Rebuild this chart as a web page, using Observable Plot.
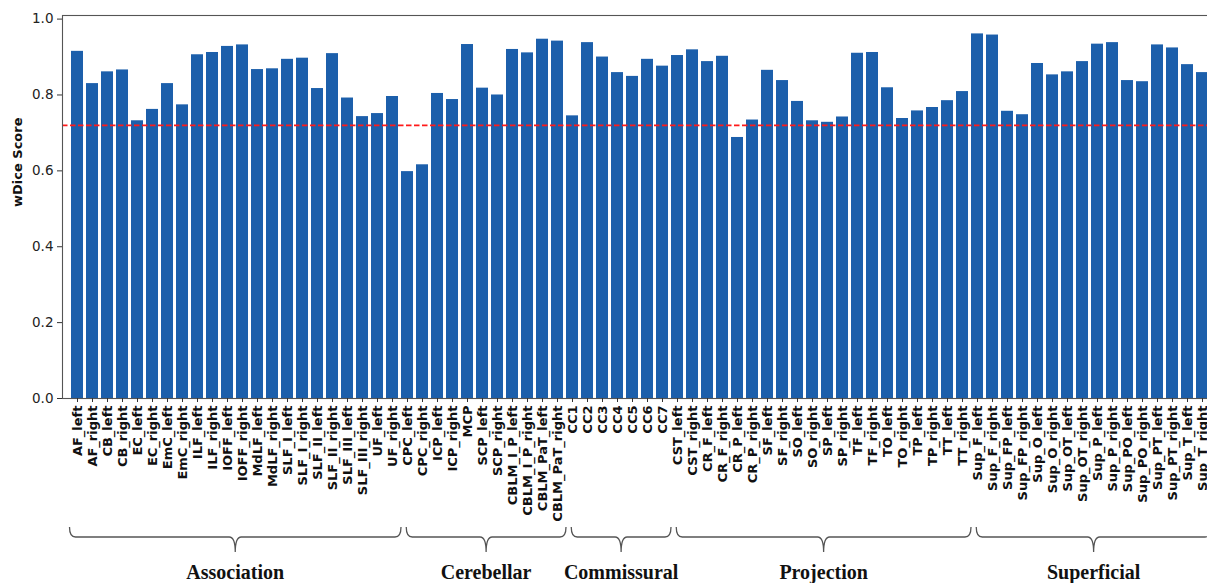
<!DOCTYPE html>
<html>
<head>
<meta charset="utf-8">
<script src="https://cdn.jsdelivr.net/npm/d3@7"></script>
<script src="https://cdn.jsdelivr.net/npm/@observablehq/plot@0.6"></script>
<style>
  html, body { margin: 0; padding: 0; background: #fff; overflow: hidden; }
  #chart { width: 1207px; height: 583px; overflow: hidden; }
</style>
</head>
<body>
<div id="chart"></div>
<script>
// ---- data ----
const groupNames = ["Association", "Cerebellar", "Commissural", "Projection", "Superficial"];

const associationTracts = ["AF_left","AF_right","CB_left","CB_right","EC_left","EC_right","EmC_left","EmC_right","ILF_left","ILF_right","IOFF_left","IOFF_right","MdLF_left","MdLF_right","SLF_I_left","SLF_I_right","SLF_II_left","SLF_II_right","SLF_III_left","SLF_III_right","UF_left","UF_right"];
const associationScores = [0.915,0.830,0.861,0.866,0.732,0.762,0.830,0.774,0.906,0.912,0.928,0.932,0.867,0.869,0.894,0.897,0.817,0.909,0.792,0.743,0.751,0.796];

const cerebellarTracts = ["CPC_left","CPC_right","ICP_left","ICP_right","MCP","SCP_left","SCP_right","CBLM_I_P_left","CBLM_I_P_right","CBLM_PaT_left","CBLM_PaT_right"];
const cerebellarScores = [0.598,0.616,0.804,0.788,0.933,0.818,0.800,0.920,0.911,0.947,0.942];

const commissuralTracts = ["CC1","CC2","CC3","CC4","CC5","CC6","CC7"];
const commissuralScores = [0.745,0.938,0.900,0.859,0.849,0.894,0.876];

const projectionTracts = ["CST_left","CST_right","CR_F_left","CR_F_right","CR_P_left","CR_P_right","SF_left","SF_right","SO_left","SO_right","SP_left","SP_right","TF_left","TF_right","TO_left","TO_right","TP_left","TP_right","TT_left","TT_right"];
const projectionScores = [0.904,0.919,0.888,0.902,0.688,0.734,0.865,0.838,0.783,0.732,0.728,0.742,0.910,0.912,0.819,0.738,0.758,0.767,0.785,0.809];

const superficialTracts = ["Sup_F_left","Sup_F_right","Sup_FP_left","Sup_FP_right","Sup_O_left","Sup_O_right","Sup_OT_left","Sup_OT_right","Sup_P_left","Sup_P_right","Sup_PO_left","Sup_PO_right","Sup_PT_left","Sup_PT_right","Sup_T_left","Sup_T_right"];
const superficialScores = [0.961,0.958,0.757,0.748,0.883,0.853,0.861,0.888,0.934,0.938,0.838,0.835,0.932,0.924,0.880,0.859];

const threshold = 0.72;
const yTicks = [0.0, 0.2, 0.4, 0.6, 0.8, 1.0];

// ---- build table ----
const groupTracts = [associationTracts, cerebellarTracts, commissuralTracts, projectionTracts, superficialTracts];
const groupScores = [associationScores, cerebellarScores, commissuralScores, projectionScores, superficialScores];
const rows = [];
groupTracts.forEach((tracts, g) => tracts.forEach((t, i) => rows.push({tract: t, score: groupScores[g][i], group: groupNames[g]})));
const domain = rows.map(d => d.tract);

const plot = Plot.plot({
  width: 1216,
  height: 583,
  marginLeft: 62,
  marginRight: 0,
  marginTop: 15,
  marginBottom: 185,
  style: {maxWidth: "none", fontFamily: "DejaVu Sans", background: "#fff", overflow: "visible"},
  x: {domain, paddingInner: 0.2, paddingOuter: 0.4, label: null},
  y: {domain: [0, 1.0095], label: null},
  marks: [
    Plot.barY(rows, {x: "tract", y: "score", fill: "#1c5fab"}),
    Plot.ruleY([threshold], {stroke: "#ff1a1a", strokeWidth: 1.6, strokeDasharray: "5.5,2.5"}),
    Plot.frame({stroke: "#555", strokeWidth: 1.1}),
    Plot.axisY({ticks: yTicks, tickFormat: d3.format(".1f"), tickSize: 5, tickPadding: 4, fontSize: 13.5, label: null, stroke: "#333", fill: "#222"}),
    Plot.axisX({tickRotate: -90, tickSize: 4, tickPadding: 3, fontSize: 13, fontWeight: "bold", label: null, fill: "#111", stroke: "#333"}),
    Plot.text(["wDice Score"], {frameAnchor: "left", dx: -44.5, rotate: -90, fontWeight: "bold", fontSize: 13, fill: "#111", text: d => d})
  ]
});
document.getElementById("chart").appendChild(plot);

// ---- group braces, placed through the plot's own scales ----
const xs = plot.scale("x");
const ys = plot.scale("y");
const step = xs.step, bw = xs.bandwidth;
const center = name => xs.apply(name) + bw / 2;
const y0 = ys.apply(0);
const yTop = y0 + 129, yMid = y0 + 139, yTip = y0 + 154, yText = y0 + 181;
const svg = d3.select(plot);
const g = svg.append("g");
groupTracts.forEach((tracts, i) => {
  const x0 = center(tracts[0]) - (i === 0 ? 0.5 : 0.05) * step;
  const x1 = center(tracts[tracts.length - 1]) + 0.6 * step;
  const xc = (x0 + x1) / 2;
  const r = 6;
  const p = `M${x0},${yTop} Q${x0},${yMid} ${x0 + r},${yMid} L${xc - r},${yMid} Q${xc},${yMid} ${xc},${yTip} Q${xc},${yMid} ${xc + r},${yMid} L${x1 - r},${yMid} Q${x1},${yMid} ${x1},${yTop}`;
  g.append("path").attr("d", p).attr("fill", "none").attr("stroke", "#555").attr("stroke-width", 1.3);
  g.append("text").attr("x", xc).attr("y", yText).attr("text-anchor", "middle")
    .attr("font-family", "Liberation Serif").attr("font-weight", "bold").attr("font-size", 20)
    .attr("fill", "#111").text(groupNames[i]);
});
</script>
</body>
</html>
